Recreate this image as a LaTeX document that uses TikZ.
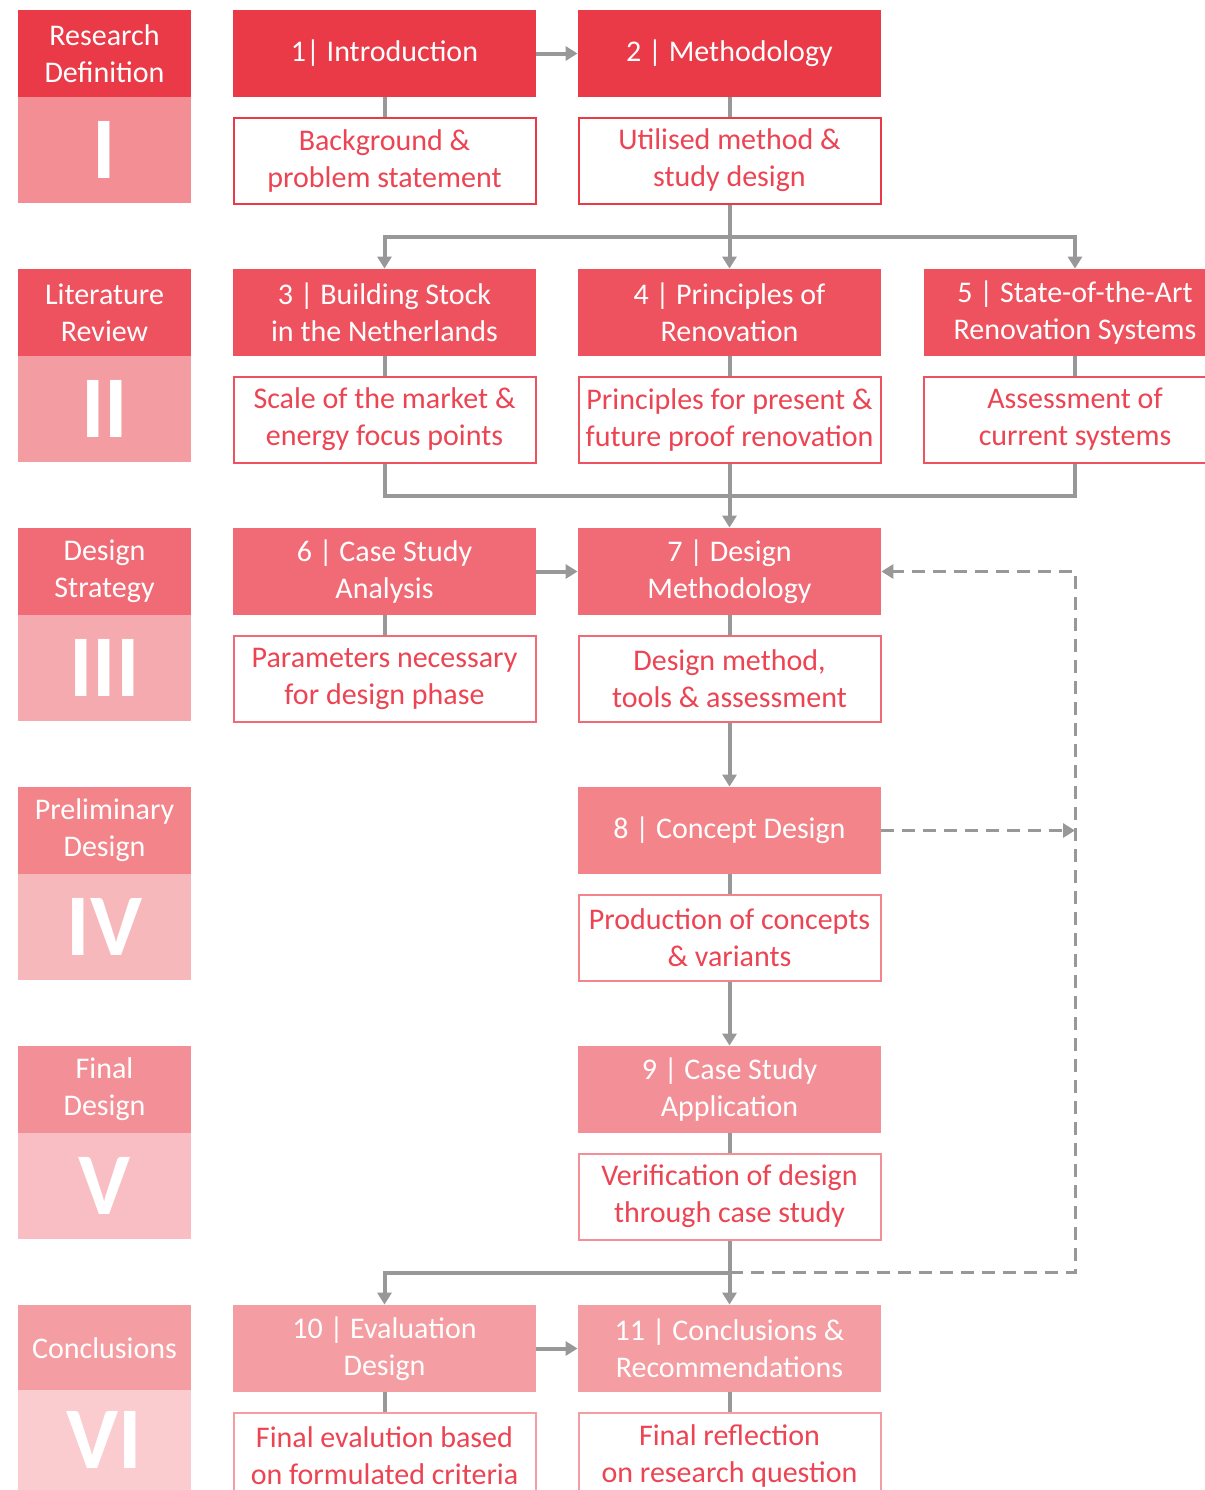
\documentclass[tikz,border=0pt]{standalone}
\usepackage{fontspec}
\setmainfont{Carlito}
\usetikzlibrary{arrows.meta}

\definecolor{rowI}{RGB}{234,58,72}
\definecolor{rowII}{RGB}{238,82,94}
\definecolor{rowIII}{RGB}{241,107,118}
\definecolor{rowIV}{RGB}{242,132,138}
\definecolor{rowV}{RGB}{243,143,150}
\definecolor{rowVI}{RGB}{244,157,162}
\definecolor{lowI}{RGB}{242,142,148}
\definecolor{lowII}{RGB}{243,157,162}
\definecolor{lowIII}{RGB}{245,170,176}
\definecolor{lowIV}{RGB}{247,184,188}
\definecolor{lowV}{RGB}{248,190,195}
\definecolor{lowVI}{RGB}{250,204,207}
\definecolor{boxtext}{RGB}{236,68,82}
\definecolor{linkgray}{RGB}{152,152,152}

\newcommand\chapfont{\fontsize{15}{18.5}\selectfont}
\newcommand\romanfont{\fontsize{44}{44}\bfseries\selectfont}

\tikzset{
  chapter/.style={fill=#1, text=white, minimum width=151.5pt, minimum height=43.5pt, inner sep=0pt, align=center, font=\chapfont},
  summary/.style={draw=#1, line width=1pt, fill=white, text=boxtext, minimum width=151pt, minimum height=43pt, inner sep=0pt, align=center, font=\chapfont},
  phase/.style={fill=#1, text=white, minimum width=86.5pt, minimum height=43.5pt, inner sep=0pt, align=center, font=\chapfont},
  numeral/.style={fill=#1, text=white, minimum width=86.5pt, minimum height=53pt, inner sep=0pt, font=\romanfont},
  link/.style={draw=linkgray, line width=2pt},
  flow/.style={link, -{Triangle[length=6pt,width=7pt]}},
  feedback/.style={flow, line width=1.5pt, dash pattern=on 6.5pt off 4pt}
}

\begin{document}
\begin{tikzpicture}[x=0.5pt,y=-0.5pt]
	\useasboundingbox (0,0) rectangle (1205,1490);
	\clip (0,0) rectangle (1205,1490);
	% phases
	\node[phase=rowI] (p1) at (104.5,53.5) {Research\\Definition};
	\node[numeral=lowI] (r1) at (104.5,150) {I};
	\node[phase=rowII] (p2) at (104.5,312.5) {Literature\\Review};
	\node[numeral=lowII] (r2) at (104.5,409) {II};
	\node[phase=rowIII] (p3) at (104.5,571.5) {Design\\Strategy};
	\node[numeral=lowIII] (r3) at (104.5,668) {III};
	\node[phase=rowIV] (p4) at (104.5,830.5) {Preliminary\\Design};
	\node[numeral=lowIV] (r4) at (104.5,927) {IV};
	\node[phase=rowV] (p5) at (104.5,1089.5) {Final\\Design};
	\node[numeral=lowV] (r5) at (104.5,1186) {V};
	\node[phase=rowVI] (p6) at (104.5,1348.5) {Conclusions};
	\node[numeral=lowVI, minimum height=50pt] (r6) at (104.5,1440) {VI};
	% chapters
	\node[chapter=rowI] (n1) at (384.5,53.5) {1| Introduction};
	\node[summary=rowI] (d1) at (384.5,160.5) {Background \&\\problem statement};
	\node[chapter=rowI] (n2) at (729.5,53.5) {2 | Methodology};
	\node[summary=rowI] (d2) at (729.5,160.5) {Utilised method \&\\study design};
	\node[chapter=rowII] (n3) at (384.5,312.5) {3 | Building Stock\\in the Netherlands};
	\node[summary=rowII] (d3) at (384.5,419.5) {Scale of the market \&\\energy focus points};
	\node[chapter=rowII] (n4) at (729.5,312.5) {4 | Principles of\\Renovation};
	\node[summary=rowII] (d4) at (729.5,419.5) {Principles for present \&\\future proof renovation};
	\node[chapter=rowII] (n5) at (1075,312.5) {5 | State-of-the-Art\\Renovation Systems};
	\node[summary=rowII] (d5) at (1075,419.5) {Assessment of\\current systems};
	\node[chapter=rowIII] (n6) at (384.5,571.5) {6 | Case Study\\Analysis};
	\node[summary=rowIII] (d6) at (384.5,678.5) {Parameters necessary\\for design phase};
	\node[chapter=rowIII] (n7) at (729.5,571.5) {7 | Design\\Methodology};
	\node[summary=rowIII] (d7) at (729.5,678.5) {Design method,\\tools \& assessment};
	\node[chapter=rowIV] (n8) at (729.5,830.5) {8 | Concept Design};
	\node[summary=rowIV] (d8) at (729.5,937.5) {Production of concepts\\\& variants};
	\node[chapter=rowV] (n9) at (729.5,1089.5) {9 | Case Study\\Application};
	\node[summary=rowV] (d9) at (729.5,1196.5) {Verification of design\\through case study};
	\node[chapter=rowVI] (n10) at (384.5,1348.5) {10 | Evaluation\\Design};
	\node[summary=rowVI] (d10) at (384.5,1455.5) {Final evalution based\\on formulated criteria};
	\node[chapter=rowVI] (n11) at (729.5,1348.5) {11 | Conclusions \&\\Recommendations};
	\node[summary=rowVI] (d11) at (729.5,1455.5) {Final reflection\\on research question};
	% junctions
	\coordinate (j1) at (729.5,236.5);
	\coordinate (j2) at (729.5,495.5);
	\coordinate (j3) at (729.5,1272.5);
	\coordinate (loop) at (1075,571.5);
	% chapter to summary
	\foreach \k in {1,...,11}
		\draw[link] (n\k) -- (d\k);
	% flow
	\draw[flow] (n1) -- (n2);
	\draw[flow] (d2) -- (n4);
	\draw[flow] (j1) -| (n3);
	\draw[flow] (j1) -| (n5);
	\draw[link] (d3) |- (j2);
	\draw[link] (d5) |- (j2);
	\draw[flow] (d4) -- (n7);
	\draw[flow] (n6) -- (n7);
	\draw[flow] (d7) -- (n8);
	\draw[flow] (d8) -- (n9);
	\draw[flow] (d9) -- (n11);
	\draw[flow] (j3) -| (n10);
	\draw[flow] (n10) -- (n11);
	% feedback
	\draw[feedback] (j3) -| (loop) -- (n7);
	\draw[feedback] (n8) -- (n8 -| loop);
\end{tikzpicture}
\end{document}
